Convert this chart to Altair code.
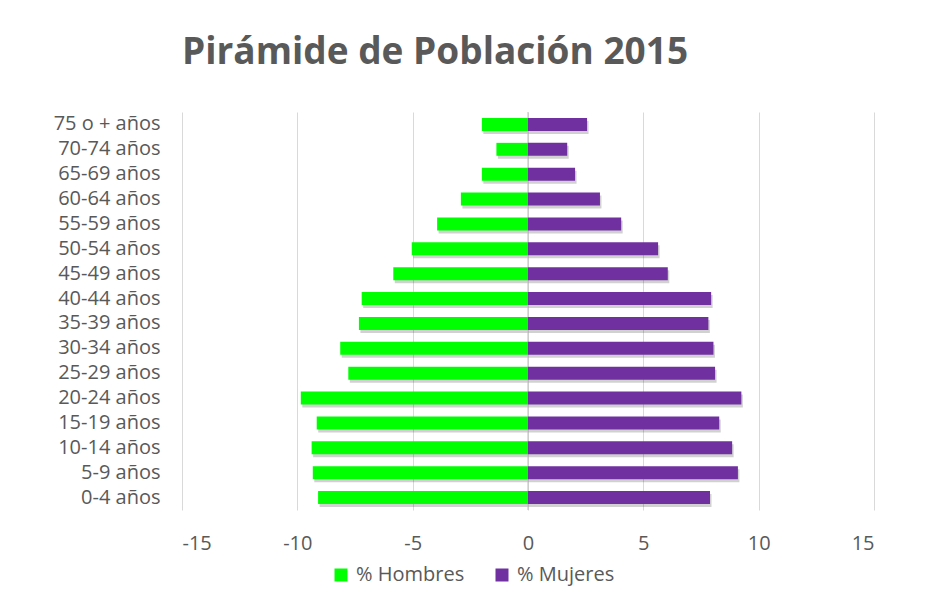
import altair as alt
import pandas as pd

ages = ["75 o + años", "70-74 años", "65-69 años", "60-64 años", "55-59 años",
        "50-54 años", "45-49 años", "40-44 años", "35-39 años", "30-34 años",
        "25-29 años", "20-24 años", "15-19 años", "10-14 años", "5-9 años", "0-4 años"]
hombres = [-2.0, -1.37, -2.0, -2.91, -3.94, -5.04, -5.84, -7.21, -7.33, -8.14,
           -7.79, -9.85, -9.16, -9.38, -9.33, -9.1]
mujeres = [2.56, 1.7, 2.04, 3.12, 4.04, 5.64, 6.06, 7.94, 7.82, 8.04,
           8.11, 9.25, 8.29, 8.85, 9.1, 7.89]
series = ["% Hombres", "% Mujeres"]
colors = ["#00FF00", "#7030A0"]
x_ticks = [-15, -10, -5, 0, 5, 10, 15]

rows = []
for a, h, m in zip(ages, hombres, mujeres):
    rows.append({"edad": a, "serie": series[0], "valor": h})
    rows.append({"edad": a, "serie": series[1], "valor": m})
df = pd.DataFrame(rows)

FONT = "Open Sans"
GREY = "#595959"

x_enc = alt.X("valor:Q", scale=alt.Scale(domain=[-15, 15], nice=False),
              axis=alt.Axis(values=x_ticks, title=None, domain=False, ticks=False,
                            grid=True, gridColor="#d9d9d9", gridWidth=1,
                            labelExpr="'' + datum.value", labelPadding=23,
                            labelFontSize=20, labelColor=GREY, labelFont=FONT))
y_enc = alt.Y("edad:N", sort=ages,
              scale=alt.Scale(paddingInner=0.48, paddingOuter=0.24),
              axis=alt.Axis(title=None, domain=False, ticks=False, grid=False,
                            labelPadding=22, labelFontSize=20, labelColor=GREY,
                            labelFont=FONT))

base = alt.Chart(df)

shadow = base.mark_bar(color="#000000", opacity=0.18, xOffset=1.5, yOffset=3).encode(
    x=x_enc, y=y_enc, detail="serie:N")

bars = base.mark_bar().encode(
    x=x_enc,
    y=y_enc,
    color=alt.Color("serie:N", sort=series,
                    scale=alt.Scale(domain=series, range=colors),
                    legend=alt.Legend(title=None, orient="none", direction="horizontal",
                                      legendX=149, legendY=453, symbolType="square",
                                      symbolSize=169, symbolStrokeWidth=0,
                                      labelFontSize=20, labelColor=GREY, labelFont=FONT,
                                      labelOffset=5, columnPadding=27)),
)

zero = alt.Chart(pd.DataFrame({"x": [0]})).mark_rule(color="#bfbfbf", strokeWidth=1).encode(
    x=alt.X("x:Q"))

chart = alt.layer(shadow, zero, bars).properties(
    width=692,
    height=398,
    autosize=alt.AutoSizeParams(type="none"),
    padding={"left": 174, "top": 104, "right": 48, "bottom": 78},
    title=alt.Title("Pirámide de Población 2015", anchor="start", frame="group",
                    fontSize=37, font="Open Sans", fontWeight="bold", color=GREY,
                    offset=40),
).configure_view(stroke=None)

chart.save("out.html", embed_options={"renderer": "svg", "actions": False})
